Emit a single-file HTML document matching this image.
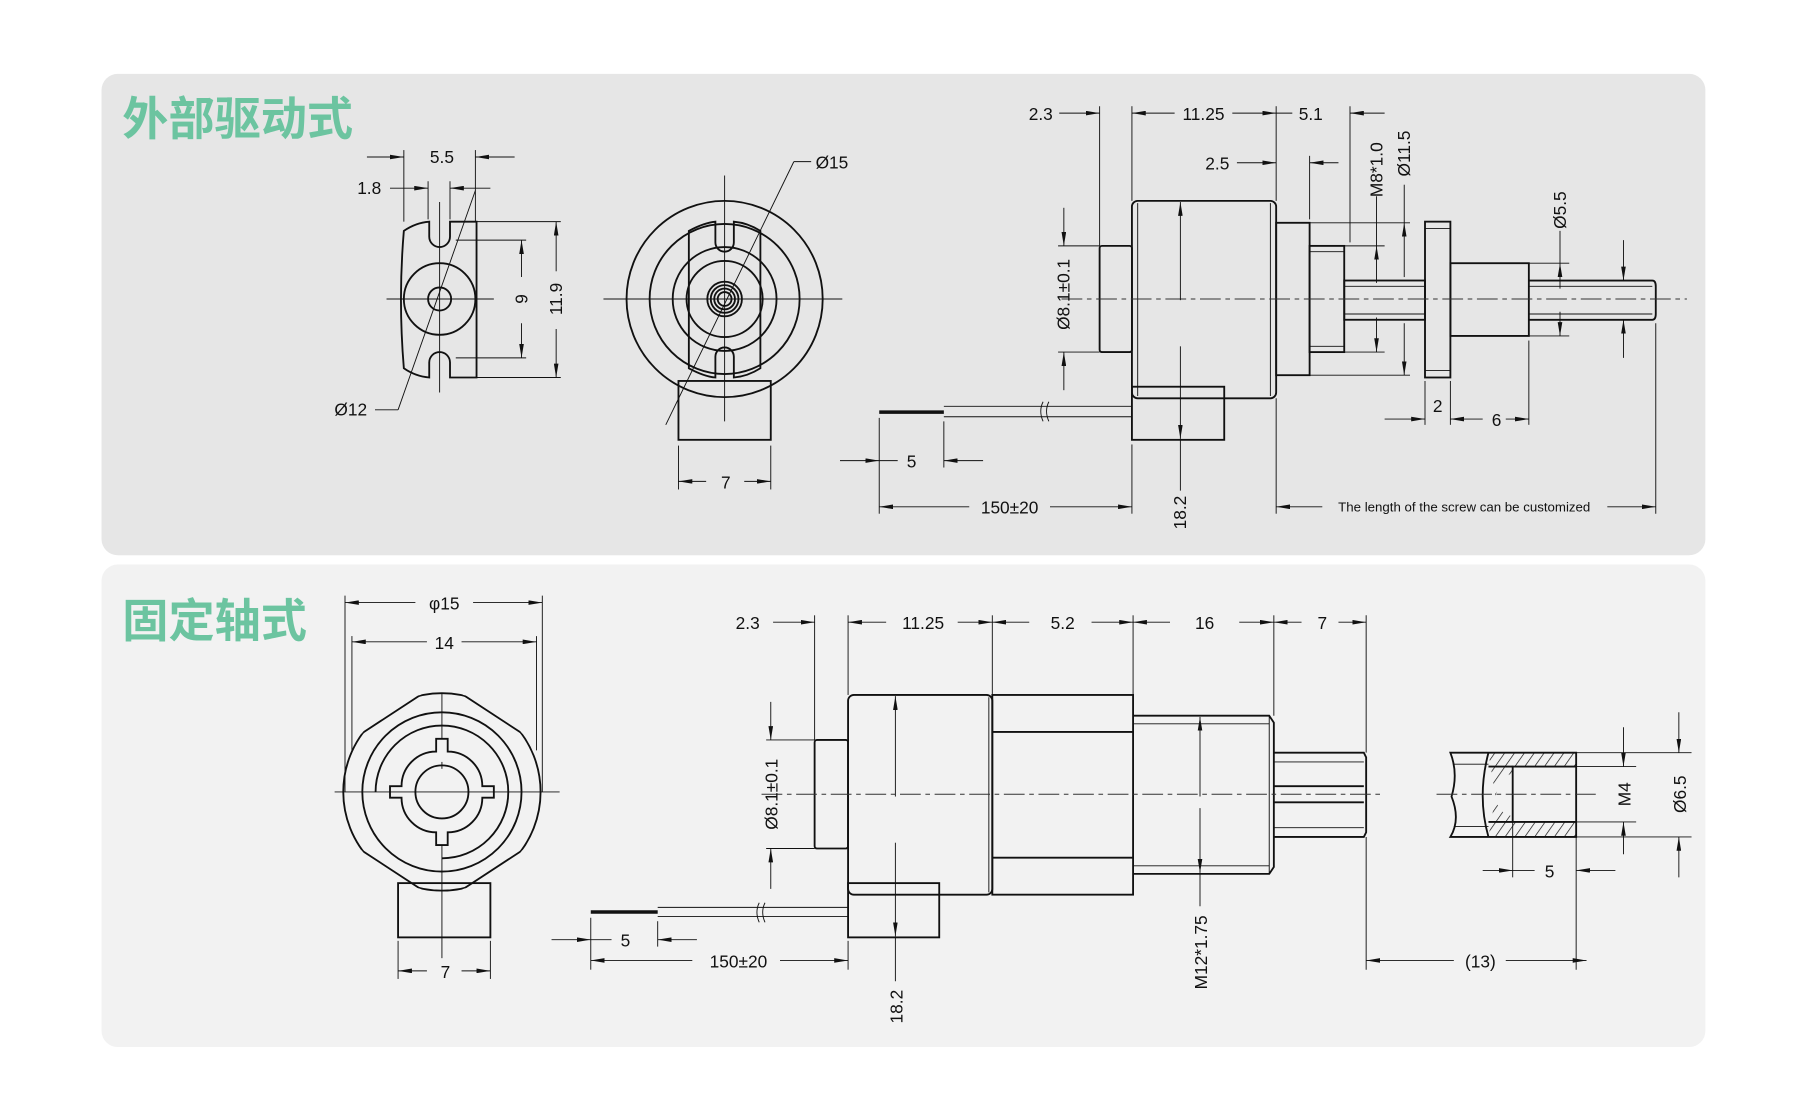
<!DOCTYPE html>
<html><head><meta charset="utf-8"><style>
html,body{margin:0;padding:0;background:#fff;}
svg{display:block;}
text{font-family:"Liberation Sans","Noto Sans CJK SC",sans-serif;fill:#111;}
.t{font-size:15px;}
.o{fill:none;stroke:#111;stroke-width:1.6;}
.l{fill:none;stroke:#111;stroke-width:0.8;}
.c{fill:none;stroke:#333;stroke-width:0.8;stroke-dasharray:18 4 4 4;}
.d{fill:none;stroke:#111;stroke-width:0.8;marker-end:url(#a);}
</style></head><body>
<svg width="1800" height="1114" viewBox="0 0 1560 965" preserveAspectRatio="none" xmlns="http://www.w3.org/2000/svg">
<defs>
<marker id="a" viewBox="0 0 12 4" refX="12" refY="2" markerWidth="12" markerHeight="4" orient="auto" markerUnits="userSpaceOnUse"><path d="M0,0L12,2L0,4z" fill="#111"/></marker>
<pattern id="h" width="7" height="7" patternUnits="userSpaceOnUse" patternTransform="rotate(35)"><line x1="0" y1="0" x2="0" y2="7" stroke="#111" stroke-width="1.2"/></pattern>
<clipPath id="cc"><circle cx="383" cy="686" r="86"/></clipPath>
<clipPath id="hx"><polygon points="369,599 288,652 288,720 369,773 397,773 478,720 478,652 397,599"/></clipPath>
</defs>
<rect x="88" y="64" width="1390" height="417" rx="14" fill="#e6e6e6"/>
<rect x="88" y="489" width="1390" height="418" rx="14" fill="#f2f2f2"/>
<text x="106" y="117" style="font-size:40px;font-weight:bold;fill:#6cc4a0">外部驱动式</text>
<text x="106" y="552" style="font-size:40px;font-weight:bold;fill:#6cc4a0">固定轴式</text>

<!-- TOP LEFT VIEW -->
<path class="o" d="M350,200 Q360,193 372,192 L372,205 A9,9 0 0 0 390,205 L390,192 L413,192 L413,327 L390,327 L390,314 A9,9 0 0 0 372,314 L372,327 Q360,326 350,319 Q345,259 350,200Z"/>
<ellipse class="o" cx="381" cy="259" rx="31" ry="31"/>
<circle class="o" cx="381" cy="259" r="10"/>
<line class="l" x1="335" y1="259" x2="428" y2="259"/><line class="l" x1="381" y1="175" x2="381" y2="340"/>
<line class="l" x1="350" y1="192" x2="350" y2="130"/><line class="l" x1="412" y1="192" x2="412" y2="130"/>
<line class="d" x1="318" y1="136" x2="350" y2="136"/><line class="d" x1="446" y1="136" x2="412" y2="136"/>
<text class="t" x="383" y="141" text-anchor="middle">5.5</text>
<line class="l" x1="371" y1="190" x2="371" y2="157"/><line class="l" x1="390" y1="190" x2="390" y2="157"/>
<line class="d" x1="338" y1="163" x2="371" y2="163"/><line class="d" x1="425" y1="163" x2="390" y2="163"/>
<text class="t" x="320" y="168" text-anchor="middle">1.8</text>
<line class="l" x1="395" y1="208" x2="456" y2="208"/><line class="l" x1="395" y1="310" x2="456" y2="310"/>
<line class="l" x1="413" y1="192" x2="486" y2="192"/><line class="l" x1="395" y1="327" x2="486" y2="327"/>
<line class="d" x1="452" y1="240" x2="452" y2="208"/><line class="d" x1="452" y1="280" x2="452" y2="310"/>
<text class="t" transform="translate(457,259) rotate(-90)" text-anchor="middle">9</text>
<line class="d" x1="482" y1="235" x2="482" y2="192"/><line class="d" x1="482" y1="285" x2="482" y2="327"/>
<text class="t" transform="translate(487,259) rotate(-90)" text-anchor="middle">11.9</text>
<line class="l" x1="325" y1="355" x2="345" y2="355"/><line class="l" x1="345" y1="355" x2="412" y2="165"/>
<text class="t" x="304" y="360" text-anchor="middle">Ø12</text>

<!-- TOP MIDDLE VIEW -->
<rect class="o" x="588" y="330" width="80" height="51"/>
<circle class="o" cx="628" cy="259" r="85" fill="#e6e6e6"/>
<circle class="o" cx="628" cy="259" r="65"/>
<circle class="o" cx="628" cy="259" r="45"/>
<path class="o" d="M597,200 Q610,193 620,192 L620,210 A8,8 0 0 0 636,210 L636,192 Q648,193 659,200 L659,319 Q648,326 636,327 L636,309 A8,8 0 0 0 620,309 L620,327 Q610,326 597,319Z" fill="#e6e6e6"/>
<circle class="o" cx="628" cy="259" r="33"/>
<circle class="o" cx="628" cy="259" r="15"/><circle class="o" cx="628" cy="259" r="12"/><circle class="o" cx="628" cy="259" r="9"/><circle class="o" cx="628" cy="259" r="6"/>
<line class="l" x1="523" y1="259" x2="730" y2="259"/><line class="l" x1="628" y1="152" x2="628" y2="365"/>
<line class="l" x1="577" y1="368" x2="688" y2="140"/><line class="l" x1="688" y1="140" x2="703" y2="140"/>
<text class="t" x="721" y="146" text-anchor="middle">Ø15</text>
<line class="l" x1="588" y1="386" x2="588" y2="424"/><line class="l" x1="668" y1="386" x2="668" y2="424"/>
<line class="d" x1="612" y1="417" x2="588" y2="417"/><line class="d" x1="645" y1="417" x2="668" y2="417"/>
<text class="t" x="629" y="423" text-anchor="middle">7</text>

<!-- TOP RIGHT VIEW -->
<line x1="762" y1="357" x2="818" y2="357" stroke="#111" stroke-width="3"/>
<path class="l" d="M818,352 L981,352 M818,361 L981,361"/>
<path class="l" d="M904,348 q-4,8 0,17 M909,348 q-4,8 0,17" />
<rect class="o" x="953" y="213" width="28" height="92" rx="2"/>
<rect class="o" x="981" y="174" width="125" height="171" rx="5"/>
<line class="l" x1="986" y1="176" x2="986" y2="343"/><line class="l" x1="1101" y1="176" x2="1101" y2="343"/>
<rect class="o" x="981" y="335" width="80" height="46" fill="#e6e6e6"/>
<rect class="o" x="1106" y="193" width="29" height="132"/>
<rect class="o" x="1135" y="213" width="30" height="92"/><line class="l" x1="1135" y1="218" x2="1165" y2="218"/><line class="l" x1="1135" y1="300" x2="1165" y2="300"/>
<rect class="o" x="1165" y="243" width="70" height="34"/><line class="l" x1="1165" y1="248" x2="1235" y2="248"/><line class="l" x1="1165" y1="272" x2="1235" y2="272"/>
<rect class="o" x="1235" y="192" width="22" height="135"/><line class="l" x1="1235" y1="198" x2="1257" y2="198"/><line class="l" x1="1235" y1="321" x2="1257" y2="321"/>
<rect class="o" x="1257" y="228" width="68" height="63"/>
<path class="o" d="M1325,243 L1432,243 Q1435,243 1435,248 L1435,272 Q1435,277 1432,277 L1325,277"/><line class="l" x1="1325" y1="248" x2="1432" y2="248"/><line class="l" x1="1325" y1="272" x2="1432" y2="272"/>
<line class="c" x1="920" y1="259" x2="1462" y2="259"/>
<!-- dims -->
<line class="l" x1="953" y1="92" x2="953" y2="213"/><line class="l" x1="981" y1="92" x2="981" y2="174"/><line class="l" x1="1106" y1="92" x2="1106" y2="174"/><line class="l" x1="1170" y1="92" x2="1170" y2="210"/>
<line class="d" x1="918" y1="98" x2="953" y2="98"/><line class="d" x1="1018" y1="98" x2="981" y2="98"/><line class="d" x1="1068" y1="98" x2="1106" y2="98"/><line class="d" x1="1200" y1="98" x2="1170" y2="98"/><line class="l" x1="1106" y1="98" x2="1120" y2="98"/>
<text class="t" x="902" y="104" text-anchor="middle">2.3</text><text class="t" x="1043" y="104" text-anchor="middle">11.25</text><text class="t" x="1136" y="104" text-anchor="middle">5.1</text>
<line class="l" x1="1135" y1="135" x2="1135" y2="190"/>
<line class="d" x1="1072" y1="141" x2="1106" y2="141"/><line class="d" x1="1160" y1="141" x2="1135" y2="141"/>
<text class="t" x="1055" y="147" text-anchor="middle">2.5</text>
<line class="l" x1="1165" y1="213" x2="1200" y2="213"/><line class="l" x1="1165" y1="305" x2="1200" y2="305"/>
<line class="l" x1="1193" y1="170" x2="1193" y2="213"/><line class="d" x1="1193" y1="245" x2="1193" y2="213"/><line class="d" x1="1193" y1="275" x2="1193" y2="305"/>
<text class="t" transform="translate(1198,147) rotate(-90)" text-anchor="middle">M8*1.0</text>
<line class="l" x1="1135" y1="193" x2="1222" y2="193"/><line class="l" x1="1135" y1="325" x2="1222" y2="325"/>
<line class="l" x1="1217" y1="160" x2="1217" y2="193"/><line class="d" x1="1217" y1="240" x2="1217" y2="193"/><line class="d" x1="1217" y1="280" x2="1217" y2="325"/>
<text class="t" transform="translate(1222,133) rotate(-90)" text-anchor="middle">Ø11.5</text>
<line class="l" x1="1325" y1="228" x2="1360" y2="228"/><line class="l" x1="1325" y1="291" x2="1360" y2="291"/>
<line class="l" x1="1352" y1="200" x2="1352" y2="228"/><line class="d" x1="1352" y1="250" x2="1352" y2="228"/><line class="d" x1="1352" y1="270" x2="1352" y2="291"/>
<text class="t" transform="translate(1357,182) rotate(-90)" text-anchor="middle">Ø5.5</text>
<line class="d" x1="1407" y1="208" x2="1407" y2="243"/><line class="d" x1="1407" y1="310" x2="1407" y2="277"/>
<line class="l" x1="917" y1="213" x2="953" y2="213"/><line class="l" x1="917" y1="305" x2="953" y2="305"/>
<line class="d" x1="922" y1="180" x2="922" y2="213"/><line class="d" x1="922" y1="338" x2="922" y2="305"/>
<text class="t" transform="translate(927,255) rotate(-90)" text-anchor="middle">Ø8.1±0.1</text>
<line class="d" x1="1023" y1="260" x2="1023" y2="175"/><line class="d" x1="1023" y1="300" x2="1023" y2="380"/><line class="l" x1="1023" y1="380" x2="1023" y2="425"/>
<text class="t" transform="translate(1028,444) rotate(-90)" text-anchor="middle">18.2</text>
<line class="l" x1="762" y1="362" x2="762" y2="445"/><line class="l" x1="818" y1="365" x2="818" y2="405"/><line class="l" x1="981" y1="385" x2="981" y2="445"/>
<line class="d" x1="728" y1="399" x2="762" y2="399"/><line class="d" x1="852" y1="399" x2="818" y2="399"/><line class="l" x1="762" y1="399" x2="778" y2="399"/>
<text class="t" x="790" y="405" text-anchor="middle">5</text>
<line class="d" x1="840" y1="439" x2="762" y2="439"/><line class="d" x1="910" y1="439" x2="981" y2="439"/>
<text class="t" x="875" y="445" text-anchor="middle">150±20</text>
<line class="l" x1="1235" y1="330" x2="1235" y2="368"/><line class="l" x1="1257" y1="330" x2="1257" y2="368"/><line class="l" x1="1325" y1="295" x2="1325" y2="368"/>
<line class="d" x1="1200" y1="363" x2="1235" y2="363"/><line class="d" x1="1285" y1="363" x2="1257" y2="363"/><line class="d" x1="1305" y1="363" x2="1325" y2="363"/>
<text class="t" x="1246" y="357" text-anchor="middle">2</text><text class="t" x="1297" y="369" text-anchor="middle">6</text>
<line class="l" x1="1106" y1="345" x2="1106" y2="445"/><line class="l" x1="1435" y1="280" x2="1435" y2="445"/>
<line class="d" x1="1146" y1="439" x2="1106" y2="439"/><line class="d" x1="1393" y1="439" x2="1435" y2="439"/>
<text x="1269" y="443" text-anchor="middle" style="font-size:11.5px">The length of the screw can be customized</text>

<!-- BOTTOM FRONT VIEW -->
<rect class="o" x="345" y="765" width="80" height="47"/>
<g clip-path="url(#cc)"><polygon class="o" points="369,599 288,652 288,720 369,773 397,773 478,720 478,652 397,599" fill="#f2f2f2"/></g>
<g clip-path="url(#hx)"><circle class="o" cx="383" cy="686" r="85.5"/></g>
<circle class="o" cx="383" cy="686" r="69"/>
<path class="o" d="M325.5,686 A57.5,57.5 0 1 1 383,743.5"/>
<path class="o" d="M378,650 L378,640 L388,640 L388,651 A30,30 0 0 1 418,681 L428,681 L428,691 L418,691 A30,30 0 0 1 388,721 L388,732 L378,732 L378,721 A30,30 0 0 1 348,691 L338,691 L338,681 L348,681 A30,30 0 0 1 378,651Z"/>
<circle class="o" cx="383" cy="686" r="23"/>
<line class="l" x1="290" y1="686" x2="485" y2="686"/><line class="l" x1="383" y1="660" x2="383" y2="666"/><line class="l" x1="383" y1="600" x2="383" y2="640"/><line class="l" x1="383" y1="732" x2="383" y2="830"/>
<line class="l" x1="299" y1="516" x2="299" y2="686"/><line class="l" x1="470" y1="516" x2="470" y2="686"/>
<line class="d" x1="360" y1="522" x2="299" y2="522"/><line class="d" x1="410" y1="522" x2="470" y2="522"/>
<text class="t" x="385" y="528" text-anchor="middle">φ15</text>
<line class="l" x1="305" y1="551" x2="305" y2="650"/><line class="l" x1="465" y1="551" x2="465" y2="650"/>
<line class="d" x1="370" y1="556" x2="305" y2="556"/><line class="d" x1="400" y1="556" x2="465" y2="556"/>
<text class="t" x="385" y="562" text-anchor="middle">14</text>
<line class="l" x1="345" y1="815" x2="345" y2="848"/><line class="l" x1="425" y1="815" x2="425" y2="848"/>
<line class="d" x1="370" y1="841" x2="345" y2="841"/><line class="d" x1="400" y1="841" x2="425" y2="841"/>
<text class="t" x="386" y="847" text-anchor="middle">7</text>

<!-- BOTTOM SIDE VIEW -->
<line x1="512" y1="790" x2="570" y2="790" stroke="#111" stroke-width="3"/>
<path class="l" d="M570,786 L735,786 M570,794 L735,794"/>
<path class="l" d="M658,782 q-4,8 0,17 M663,782 q-4,8 0,17"/>
<rect class="o" x="706" y="641" width="29" height="94" rx="2"/>
<rect class="o" x="735" y="602" width="125" height="173" rx="5"/>
<line class="l" x1="857" y1="604" x2="857" y2="773"/>
<rect class="o" x="735" y="765" width="79" height="47" fill="#f2f2f2"/>
<rect class="o" x="860" y="602" width="122" height="173"/>
<line class="o" x1="860" y1="634" x2="982" y2="634"/><line class="o" x1="860" y1="743" x2="982" y2="743"/>
<path class="o" d="M982,620 L1100,620 L1104,626 L1104,751 L1100,757 L982,757"/>
<line class="l" x1="982" y1="627" x2="1100" y2="627"/><line class="l" x1="982" y1="750" x2="1100" y2="750"/><line class="l" x1="1100" y1="620" x2="1100" y2="757"/>
<path class="o" d="M1104,652 L1182,652 L1184,656 L1184,721 L1182,725 L1104,725"/>
<line class="l" x1="1104" y1="660" x2="1182" y2="660"/><line class="o" x1="1104" y1="681" x2="1182" y2="681"/><line class="o" x1="1104" y1="695" x2="1182" y2="695"/><line class="l" x1="1104" y1="717" x2="1182" y2="717"/>
<line class="c" x1="660" y1="688" x2="1200" y2="688"/>
<!-- section -->
<path d="M1290,652 L1366,652 L1366,664 L1311,664 L1311,670 Q1300,672 1296,690 L1290,652Z M1296,690 Q1298,705 1311,707 L1311,712 L1366,712 L1366,725 L1290,725Z" fill="url(#h)"/>
<path class="o" d="M1257,652 L1366,652 L1366,725 L1257,725 Q1266,710 1258,690 Q1264,670 1257,652Z"/>
<path class="o" d="M1290,652 Q1280,690 1290,725"/>
<path class="o" d="M1366,664 L1311,664 L1311,712 L1366,712"/>
<path class="o" d="M1290,664 L1311,664 M1290,712 L1311,712"/>
<line class="l" x1="1260" y1="662" x2="1290" y2="662"/><line class="l" x1="1260" y1="716" x2="1290" y2="716"/>
<line class="c" x1="1245" y1="688" x2="1385" y2="688"/>
<line class="l" x1="1366" y1="652" x2="1466" y2="652"/><line class="l" x1="1366" y1="725" x2="1466" y2="725"/>
<line class="l" x1="1366" y1="664" x2="1418" y2="664"/><line class="l" x1="1366" y1="712" x2="1418" y2="712"/>
<line class="d" x1="1407" y1="630" x2="1407" y2="664"/><line class="d" x1="1407" y1="740" x2="1407" y2="712"/>
<text class="t" transform="translate(1413,688) rotate(-90)" text-anchor="middle">M4</text>
<line class="d" x1="1455" y1="617" x2="1455" y2="652"/><line class="d" x1="1455" y1="760" x2="1455" y2="725"/>
<text class="t" transform="translate(1461,688) rotate(-90)" text-anchor="middle">Ø6.5</text>
<line class="l" x1="1311" y1="712" x2="1311" y2="760"/>
<line class="d" x1="1285" y1="754" x2="1311" y2="754"/><line class="d" x1="1400" y1="754" x2="1366" y2="754"/><line class="l" x1="1311" y1="754" x2="1330" y2="754"/>
<text class="t" x="1343" y="760" text-anchor="middle">5</text>
<line class="l" x1="1366" y1="725" x2="1366" y2="840"/><line class="l" x1="1184" y1="725" x2="1184" y2="840"/><line class="l" x1="1184" y1="533" x2="1184" y2="652"/>
<line class="d" x1="1260" y1="832" x2="1184" y2="832"/><line class="d" x1="1305" y1="832" x2="1375" y2="832"/>
<text class="t" x="1283" y="838" text-anchor="middle">(13)</text>
<!-- bottom top dims -->
<line class="l" x1="706" y1="533" x2="706" y2="641"/><line class="l" x1="735" y1="533" x2="735" y2="602"/><line class="l" x1="860" y1="533" x2="860" y2="602"/><line class="l" x1="982" y1="533" x2="982" y2="602"/><line class="l" x1="1104" y1="533" x2="1104" y2="620"/>
<line class="d" x1="670" y1="539" x2="706" y2="539"/><line class="d" x1="768" y1="539" x2="735" y2="539"/><line class="d" x1="830" y1="539" x2="860" y2="539"/><line class="d" x1="892" y1="539" x2="860" y2="539"/><line class="d" x1="946" y1="539" x2="982" y2="539"/><line class="d" x1="1014" y1="539" x2="982" y2="539"/><line class="d" x1="1074" y1="539" x2="1104" y2="539"/><line class="d" x1="1128" y1="539" x2="1104" y2="539"/><line class="d" x1="1160" y1="539" x2="1184" y2="539"/>
<text class="t" x="648" y="545" text-anchor="middle">2.3</text><text class="t" x="800" y="545" text-anchor="middle">11.25</text><text class="t" x="921" y="545" text-anchor="middle">5.2</text><text class="t" x="1044" y="545" text-anchor="middle">16</text><text class="t" x="1146" y="545" text-anchor="middle">7</text>
<line class="l" x1="664" y1="641" x2="706" y2="641"/><line class="l" x1="664" y1="735" x2="706" y2="735"/>
<line class="d" x1="668" y1="608" x2="668" y2="641"/><line class="d" x1="668" y1="770" x2="668" y2="735"/>
<text class="t" transform="translate(674,688) rotate(-90)" text-anchor="middle">Ø8.1±0.1</text>
<line class="d" x1="776" y1="690" x2="776" y2="603"/><line class="d" x1="776" y1="730" x2="776" y2="811"/><line class="l" x1="776" y1="811" x2="776" y2="850"/>
<text class="t" transform="translate(782,872) rotate(-90)" text-anchor="middle">18.2</text>
<line class="d" x1="1040" y1="690" x2="1040" y2="621"/><line class="d" x1="1040" y1="700" x2="1040" y2="756"/><line class="l" x1="1040" y1="756" x2="1040" y2="785"/>
<text class="t" transform="translate(1046,825) rotate(-90)" text-anchor="middle">M12*1.75</text>
<line class="l" x1="512" y1="795" x2="512" y2="840"/><line class="l" x1="570" y1="798" x2="570" y2="820"/><line class="l" x1="735" y1="815" x2="735" y2="840"/>
<line class="d" x1="478" y1="814" x2="512" y2="814"/><line class="d" x1="604" y1="814" x2="570" y2="814"/><line class="l" x1="512" y1="814" x2="530" y2="814"/>
<text class="t" x="542" y="820" text-anchor="middle">5</text>
<line class="d" x1="600" y1="832" x2="512" y2="832"/><line class="d" x1="676" y1="832" x2="735" y2="832"/>
<text class="t" x="640" y="838" text-anchor="middle">150±20</text>
</svg>
</body></html>
